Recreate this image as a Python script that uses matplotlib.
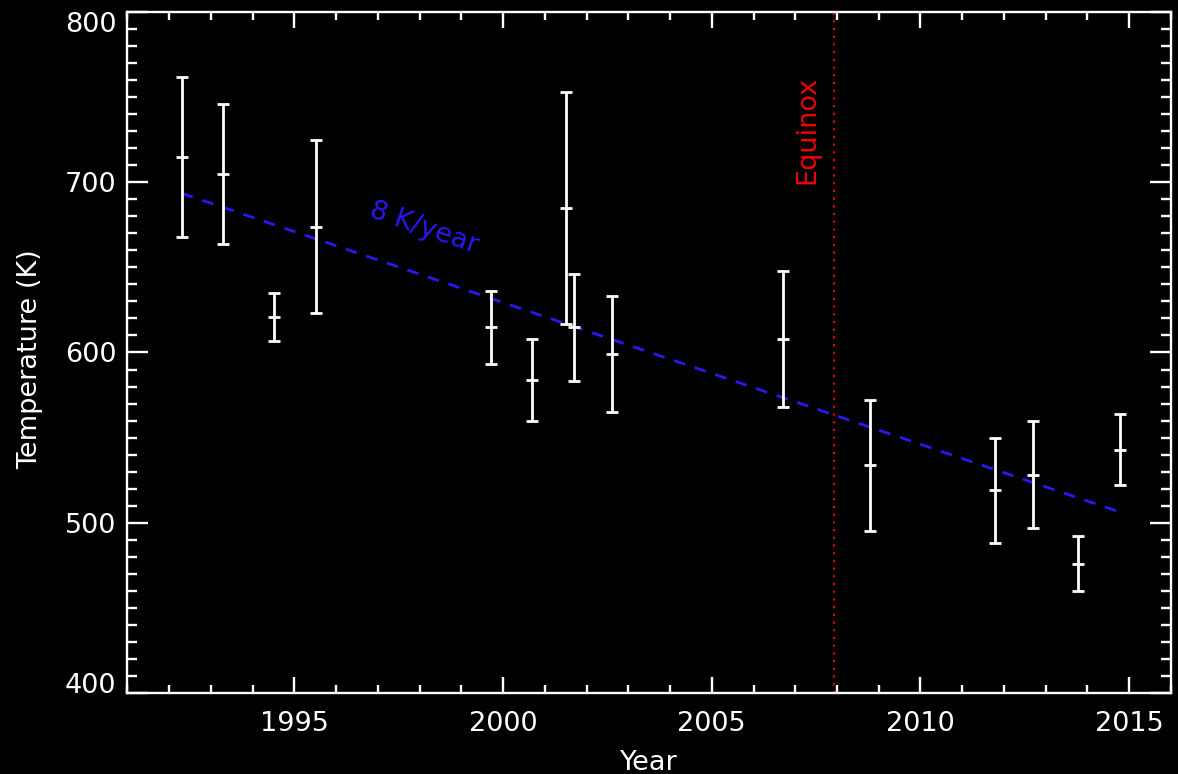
import numpy as np
import matplotlib
matplotlib.use("Agg")
import matplotlib.pyplot as plt
from matplotlib.ticker import MultipleLocator

# retrieved temperatures with 1-sigma bounds
years = [1992.30, 1993.30, 1994.50, 1995.51, 1999.70, 2000.70, 2001.50, 2001.70,
         2002.60, 2006.70, 2008.79, 2011.79, 2012.70, 2013.78, 2014.78]
temp = [715, 705, 621, 674, 615, 584, 685, 615, 599, 608, 534, 519, 528, 476, 543]
temp_hi = [762, 746, 635, 725, 636, 608, 753, 646, 633, 648, 572, 550, 560, 492, 564]
temp_lo = [668, 664, 607, 623, 593, 560, 617, 583, 565, 568, 495, 488, 497, 460, 522]

# linear fit, ~8 K/year decline
trend_years = [1992.30, 2014.70]
trend_temp = [693.5, 506.9]

equinox = 2007.93

FG = "white"
BLUE = "#2a18f0"
RED = "#f00008"
FS = 19.5

plt.rcParams["font.family"] = ["DejaVu Sans"]

fig = plt.figure(figsize=(11.78, 7.74), dpi=100, facecolor="black")
ax = fig.add_axes([0.1082, 0.1047, 0.8858, 0.8798], facecolor="black")

t = np.array(temp)
yerr = [t - np.array(temp_lo), np.array(temp_hi) - t]
ax.errorbar(years, temp, yerr=yerr, fmt="_", color=FG, ms=8.6, mew=2.0,
            elinewidth=2.0, capsize=4.3, capthick=2.0, ls="none", zorder=3)

ax.plot(trend_years, trend_temp, color=BLUE, lw=2.0, dashes=(4.2, 3.6), zorder=2)
ax.text(1998.09, 673, "8 K/year", color=BLUE, fontsize=FS, rotation=-19,
        ha="center", va="center")

ax.axvline(equinox, color=RED, lw=1.5, ls=(0, (1, 2.7)), zorder=1)
ax.text(2007.30, 731, "Equinox", color=RED, fontsize=FS, rotation=90,
        ha="center", va="center")

ax.set_xlim(1991, 2016)
ax.set_ylim(400, 800)
ax.xaxis.set_major_locator(MultipleLocator(5))
ax.xaxis.set_minor_locator(MultipleLocator(1))
ax.yaxis.set_major_locator(MultipleLocator(100))
ax.yaxis.set_minor_locator(MultipleLocator(10))

for s in ax.spines.values():
    s.set_color(FG)
    s.set_linewidth(1.7)
ax.tick_params(which="both", direction="in", top=True, right=True,
               colors=FG, width=1.7, labelsize=FS)
ax.tick_params(axis="x", which="major", length=11.5, pad=13)
ax.tick_params(axis="x", which="minor", length=5.8)
ax.tick_params(axis="y", which="major", length=15, pad=8)
ax.tick_params(axis="y", which="minor", length=7.5)

# end labels sit inside the axis range
for tick, loc in zip(ax.yaxis.get_major_ticks(), ax.yaxis.get_majorticklocs()):
    if np.isclose(loc, 800):
        tick.label1.set_verticalalignment("top")
    elif np.isclose(loc, 400):
        tick.label1.set_verticalalignment("baseline")

ax.set_xlabel("Year", color=FG, fontsize=FS)
ax.set_ylabel("Temperature (K)", color=FG, fontsize=FS)
ax.xaxis.set_label_coords(0.5, -0.103)
ax.xaxis.label.set_verticalalignment("center")
ax.yaxis.set_label_coords(-0.0934, 0.49)
ax.yaxis.label.set_verticalalignment("center")

fig.savefig("out.png", dpi=100, facecolor="black")
